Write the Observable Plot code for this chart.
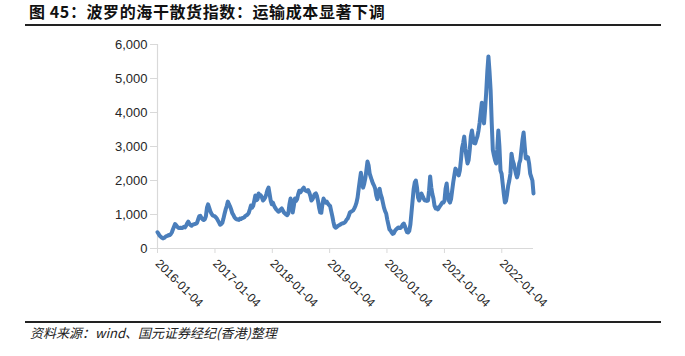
<!DOCTYPE html>
<html><head><meta charset="utf-8">
<script src="https://cdn.jsdelivr.net/npm/d3@7"></script>
<script src="https://cdn.jsdelivr.net/npm/@observablehq/plot@0.6"></script>
<style>
body{margin:0;background:#fff;width:685px;height:356px;position:relative;overflow:hidden;font-family:"Liberation Sans",Arial,sans-serif}
#title{position:absolute;left:29px;top:3px;font-family:"Noto Sans CJK SC";font-weight:bold;font-size:16px;line-height:16px;color:#111;letter-spacing:0.6px;white-space:nowrap}
.rule{position:absolute;left:25px;width:636px;height:2px;background:#222}
#chart{position:absolute;left:0;top:0}
#caption{position:absolute;left:30px;top:326px;font-family:"Noto Sans CJK SC";font-style:italic;font-size:13px;line-height:13px;color:#222;white-space:nowrap}
</style></head>
<body>
<div id="title">图 45：波罗的海干散货指数：运输成本显著下调</div>
<div class="rule" style="top:24px"></div>
<div id="chart"></div>
<div class="rule" style="top:321px"></div>
<div id="caption">资料来源：wind、国元证券经纪(香港)整理</div>
<script>
// Weekly index values (Mondays)
const years = [2016, 2017, 2018, 2019, 2020, 2021, 2022];
const v2016 = [478,429,373,345, 317,298,310,338,362, 370,395,392,420, 470,560,640,720, 680,640,610,600,610, 600,615,640,620, 670,740,790,730, 690,670,700,710,720, 730,760,860,950, 960,900,860,840,860, 950,1200,1300,1200, 1100,1030,980,960];
const v2017 = [950,920,880,820,760, 700,720,760,880, 1020,1150,1250,1380, 1300,1240,1150,1040, 990,920,880,860,850, 840,880,870,900, 900,920,960,980,1000, 1050,1150,1260,1200, 1250,1400,1560,1420, 1450,1620,1540,1560,1500, 1410,1450,1500,1600, 1720,1790,1600,1400];
const v2018 = [1300,1350,1260,1200,1150, 1120,1080,1100,1150, 1180,1120,1060,1030, 1000,980,1030,1300,1470, 1350,1060,1250,1470, 1400,1450,1600,1700, 1650,1700,1750,1790,1720, 1700,1680,1720,1650, 1550,1410,1450,1520, 1600,1620,1550,1400,1200, 1060,1050,1300,1470, 1400,1350,1380,1320,1280];
const v2019 = [1250,1100,950,780, 650,610,630,660, 680,700,720,740, 740,760,790,850,880, 960,1060,1080,1100, 1120,1180,1250,1350, 1500,1760,2000,2230,2000, 1790,1900,2060,2300, 2560,2450,2200,2100,2000, 1910,1850,1760,1560, 1450,1560,1760,1600, 1500,1350,1200,1100,1030];
const v2020 = [850,700,560,530, 470,430,450,520, 560,590,620,610,600, 640,700,735,660, 560,480,470,520, 700,1050,1400,1750,1940, 2000,1800,1500,1410, 1500,1620,1550,1480,1420, 1410,1400,1410,1700, 2120,1800,1600,1470, 1250,1180,1200,1150,1200, 1250,1300,1350,1350];
const v2021 = [1400,1750,1910,1600, 1410,1350,1450,1700, 1950,2150,2350,2300,2200, 2150,2290,2600,2950, 3100,3290,2950,2700,2500, 2600,2900,3300,3470, 3250,3100,3090,3200, 3300,3470,3700,4000,4290, 3900,3680,4100,4600, 5200,5650,5200,4650, 3700,2900,2740,2600,2500, 2900,3470,3000,2290];
const v2022 = [2200,1900,1600,1350,1400, 1600,1850,2000,2200, 2790,2600,2500,2350, 2200,2090,2200,2500, 2600,2900,3200,3410,3000, 2650,2700,2680,2500, 2200,2100,2000,1620];
const yearValues = [v2016, v2017, v2018, v2019, v2020, v2021, v2022];
const yTicks = [0, 1000, 2000, 3000, 4000, 5000, 6000];
const xTickLabels = ["2016-01-04","2017-01-04","2018-01-04","2019-01-04","2020-01-04","2021-01-04","2022-01-04"];

const data = [];
years.forEach((y, i) => {
  const mondays = d3.utcMonday.range(new Date(Date.UTC(y,0,1)), new Date(Date.UTC(y+1,0,1)));
  yearValues[i].forEach((v, j) => data.push({date: mondays[j], value: v}));
});
const xTicks = xTickLabels.map(s => new Date(s + "T00:00:00Z"));
const start = data[0].date, end = data[data.length-1].date;

const chart = Plot.plot({
  width: 685, height: 320,
  marginLeft: 157, marginRight: 152, marginTop: 44, marginBottom: 72,
  style: {fontFamily: "'Liberation Sans', Arial, sans-serif", background: "transparent", color: "#262626"},
  x: {type: "utc", domain: [start, end]},
  y: {domain: [0, 6000]},
  marks: [
    Plot.ruleY([0], {stroke: "#d9d9d9", strokeWidth: 1.2}),
    Plot.ruleX([start], {stroke: "#d9d9d9", strokeWidth: 1.2}),
    Plot.axisY({ticks: yTicks, tickFormat: d3.format(","), tickSize: 7, tickPadding: 3, stroke: "#d9d9d9", fill: "#262626", fontSize: 13, label: null}),
    Plot.axisX({ticks: xTicks, tickFormat: d3.utcFormat("%Y-%m-%d"), tickSize: 5, tickPadding: 8, tickRotate: 45, stroke: "#d9d9d9", fill: "#262626", fontSize: 12, label: null}),
    Plot.line(data, {x: "date", y: "value", stroke: "#4a7ebb", strokeWidth: 4, strokeLinejoin: "round"})
  ]
});
document.getElementById("chart").appendChild(chart);
</script>
</body></html>
